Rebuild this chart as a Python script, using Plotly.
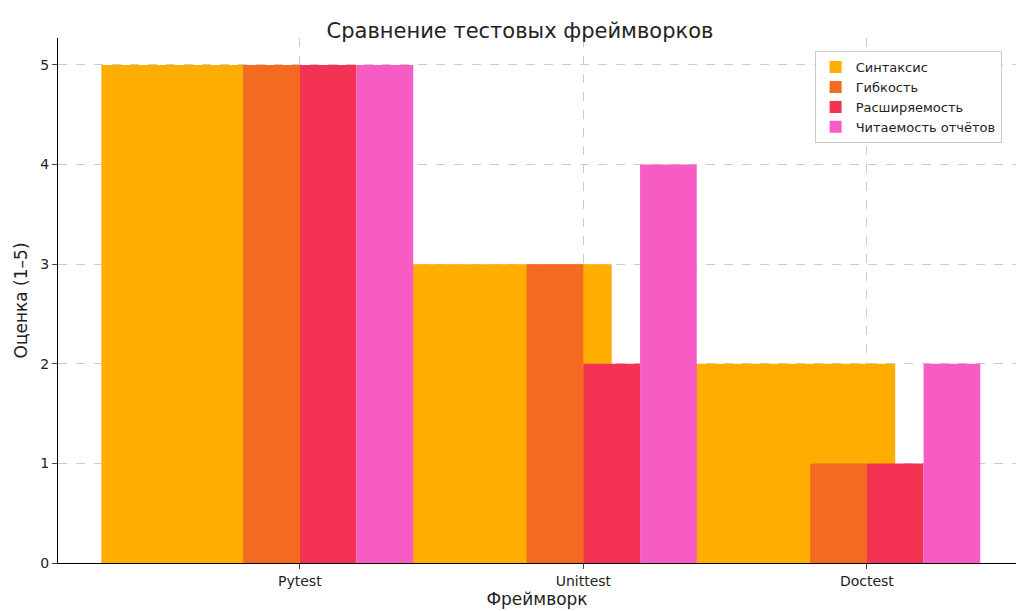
import plotly.graph_objects as go

frameworks = ["Pytest", "Unittest", "Doctest"]
criteria = ["Синтаксис", "Гибкость", "Расширяемость", "Читаемость отчётов"]
syntax = [5, 3, 2]
flexibility = [5, 3, 1]
extensibility = [5, 2, 1]
readability = [5, 4, 2]
colors = ["#FFAE00", "#F26B21", "#F43254", "#F75BC4"]

series = [syntax, flexibility, extensibility, readability]
# matplotlib-like placement: first series is wide, others narrow
offsets = [-0.7, -0.2, 0.0, 0.2]
widths = [0.8, 0.2, 0.2, 0.2]

fig = go.Figure()
for name, vals, col, off, w in zip(criteria, series, colors, offsets, widths):
    fig.add_trace(go.Bar(
        x=list(range(len(frameworks))), y=vals, name=name,
        marker=dict(color=col, line=dict(width=0)),
        offset=off, width=w,
    ))

fig.update_layout(
    barmode="overlay",
    width=1024, height=611,
    paper_bgcolor="white", plot_bgcolor="white",
    font=dict(family="DejaVu Sans", size=14, color="#222"),
    title=dict(text="Сравнение тестовых фреймворков", x=0.5, y=0.975,
               font=dict(size=21)),
    margin=dict(l=45, r=16, t=30, b=56),
    legend=dict(x=0.985, y=0.975, xanchor="right", yanchor="top",
                bordercolor="#ccc", borderwidth=1, bgcolor="white",
                font=dict(size=13), traceorder="normal"),
    xaxis=dict(tickmode="array", tickvals=[0, 1, 2], ticktext=frameworks,
               range=[-0.853, 2.526], showline=True, linecolor="black",
               showgrid=True, gridcolor="#ccc", griddash="dash",
               ticks="outside", ticklen=5, zeroline=False,
               title=dict(text="Фреймворк", standoff=4)),
    yaxis=dict(range=[0, 5.27], dtick=1, showline=True, linecolor="black",
               showgrid=True, gridcolor="#ccc", griddash="dash",
               ticks="outside", ticklen=5, zeroline=False,
               title=dict(text="Оценка (1–5)", standoff=8)),
)
fig.write_html("out.html")
